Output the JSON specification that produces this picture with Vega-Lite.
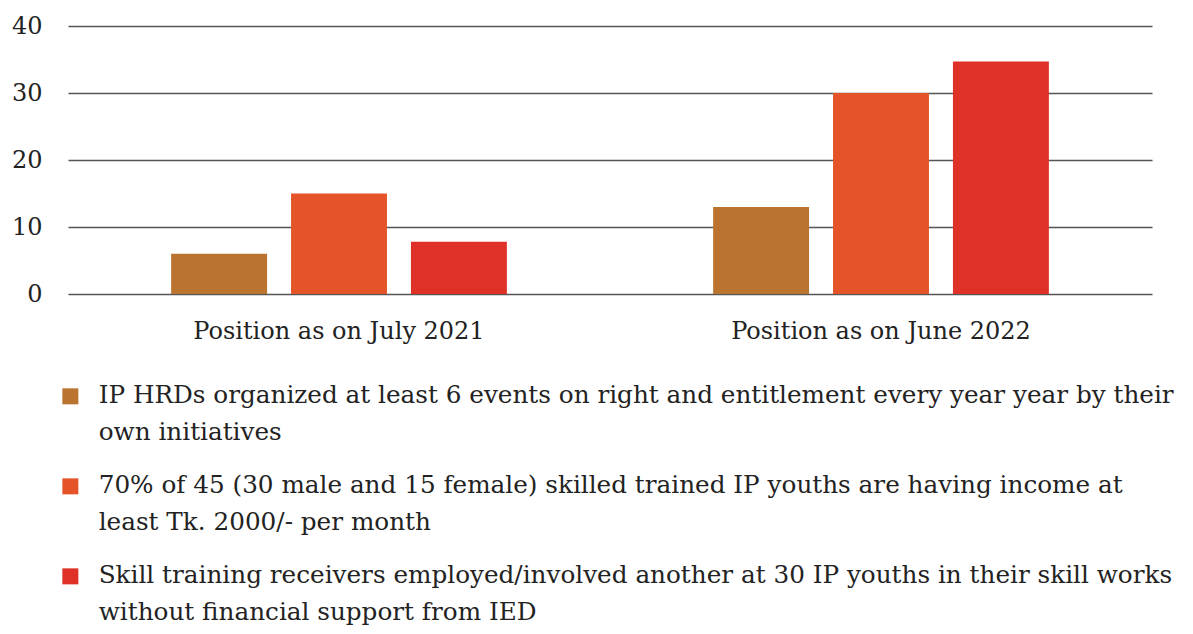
{
  "$schema": "https://vega.github.io/schema/vega-lite/v6.json",
  "width": 1084,
  "height": 268,
  "autosize": "none",
  "padding": {"left": 68, "top": 26, "right": 41, "bottom": 340},
  "background": "white",
  "config": {
    "font": "DejaVu Serif",
    "axis": {"labelFont": "DejaVu Serif"},
    "legend": {"labelFont": "DejaVu Serif"},
    "view": {"stroke": null}
  },
  "data": {
    "values": [
      {"period": "Position as on July 2021", "series": "IP HRDs organized at least 6 events on right and entitlement every year year by their own initiatives", "value": 6},
      {"period": "Position as on July 2021", "series": "70% of 45 (30 male and 15 female) skilled trained IP youths are having income at least Tk. 2000/- per month", "value": 15},
      {"period": "Position as on July 2021", "series": "Skill training receivers employed/involved another at 30 IP youths in their skill works without financial support from IED", "value": 7.8},
      {"period": "Position as on June 2022", "series": "IP HRDs organized at least 6 events on right and entitlement every year year by their own initiatives", "value": 13},
      {"period": "Position as on June 2022", "series": "70% of 45 (30 male and 15 female) skilled trained IP youths are having income at least Tk. 2000/- per month", "value": 30},
      {"period": "Position as on June 2022", "series": "Skill training receivers employed/involved another at 30 IP youths in their skill works without financial support from IED", "value": 34.7}
    ]
  },
  "mark": {"type": "bar"},
  "encoding": {
    "x": {
      "field": "period", "type": "nominal", "title": null,
      "scale": {"paddingInner": 0, "paddingOuter": 0},
      "axis": {"labelAngle": 0, "labelFont": "DejaVu Serif", "labelFontSize": 24, "labelColor": "#222", "labelLimit": 0, "ticks": false, "domain": false, "labelPadding": 25, "labelBaseline": "top"}
    },
    "xOffset": {
      "field": "series", "type": "nominal",
      "sort": ["IP HRDs organized at least 6 events on right and entitlement every year year by their own initiatives", "70% of 45 (30 male and 15 female) skilled trained IP youths are having income at least Tk. 2000/- per month", "Skill training receivers employed/involved another at 30 IP youths in their skill works without financial support from IED"],
      "scale": {"paddingInner": 0.2, "paddingOuter": 0.86}
    },
    "y": {
      "field": "value", "type": "quantitative", "title": null,
      "scale": {"domain": [0, 40]},
      "axis": {"values": [0, 10, 20, 30, 40], "labelFont": "DejaVu Serif", "labelFontSize": 24, "labelColor": "#222", "ticks": false, "domain": false, "labelPadding": 26, "gridColor": "#555", "gridWidth": 1.5, "gridOpacity": 1}
    },
    "color": {
      "field": "series", "type": "nominal",
      "sort": ["IP HRDs organized at least 6 events on right and entitlement every year year by their own initiatives", "70% of 45 (30 male and 15 female) skilled trained IP youths are having income at least Tk. 2000/- per month", "Skill training receivers employed/involved another at 30 IP youths in their skill works without financial support from IED"],
      "scale": {"range": ["#BB7330", "#E55428", "#DF3127"]},
      "legend": {
        "title": null,
        "orient": "none",
        "legendX": -10,
        "legendY": 358,
        "direction": "vertical",
        "symbolType": "square",
        "symbolSize": 256,
        "symbolStrokeWidth": 0,
        "symbolOpacity": 1,
        "labelFont": "DejaVu Serif",
        "labelFontSize": 24.7,
        "labelColor": "#222",
        "labelLimit": 0,
        "labelOffset": 16,
        "rowPadding": 27,
        "encode": {"labels": {"update": {"lineHeight": {"value": 37}}}},
        "labelExpr": "substring(datum.label, 0, 3) == 'IP ' ? ['IP HRDs organized at least 6 events on right and entitlement every year year by their', 'own initiatives'] : substring(datum.label, 0, 3) == '70%' ? ['70% of 45 (30 male and 15 female) skilled trained IP youths are having income at', 'least Tk. 2000/- per month'] : ['Skill training receivers employed/involved another at 30 IP youths in their skill works', 'without financial support from IED']"
      }
    }
  }
}
